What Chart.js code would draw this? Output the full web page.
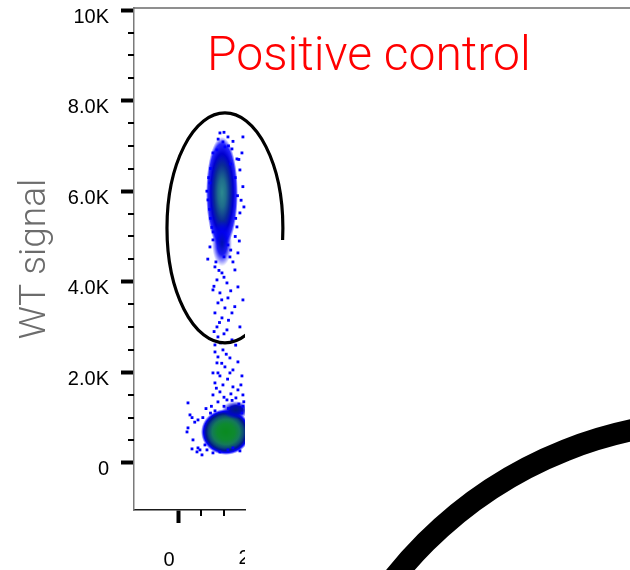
<!DOCTYPE html>
<html>
<head>
<meta charset="utf-8">
<script src="https://cdn.jsdelivr.net/npm/chart.js@4"></script>
<style>
  html, body { margin: 0; padding: 0; background: #fff; }
  canvas { display: block; }
</style>
</head>
<body>
<canvas id="plot" width="630" height="570"></canvas>
<script>
// axis ranges, data units
const xMin = -1000, xMax = 1467;
const yMin = -1040, yMax = 10045;

const xMajor = [0, 2000];
const xTickLabels = ['0', '2.0K'];
const xMinor = [500, 1000];
const yMajor = [0, 2000, 4000, 6000, 8000, 10000];
const yTickLabels = ['0', '2.0K', '4.0K', '6.0K', '8.0K', '10K'];
const yMinor = [500, 1000, 1500, 2500, 3000, 3500, 4500, 5000, 5500, 6500, 7000, 7500, 8500, 9000, 9500];

// sparse events
const eventX = [
  910, 1088, 1421, 977, 1021, 1177, 755, 844, 1399, 1288, 1354, 688, 644, 1354, 1443, 1288, 1310, 688, 1132,
  1100, 1000, 700, 1250, 1300, 700, 1250, 760, 1420,
  660, 620, 680, 1330, 1380, 1200, 870, 1150, 1260, 730, 1340, 640, 1000, 1150,
  755, 1088, 1199, 821,
  799, 955, 1243, 844, 1066, 1310, 755, 910, 1088, 1421, 866, 1021, 799, 1177, 955, 1354, 844, 1066, 866, 1177,
  799, 977, 866, 1132, 1310, 844, 1021, 1199, 866, 755, 910, 1132, 1399, 799, 977, 1199, 1310, 755, 1066, 910,
  1421, 1154, 1265, 866, 1376,
  888, 1000, 777, 1150, 950, 1240, 900, 1100, 1000, 780, 1260, 920, 1050, 800, 950, 1080, 830, 1000, 1180, 1330, 1420, 720,
  200, 244, 422, 178, 200, 311, 289, 422, 466, 622, 755, 910, 1088, 1199, 577, 400, 511, 1354,
  600, 700, 800, 1000, 1100, 1400, 1440, 350, 290, 530
];
const eventY = [
  7286, 7198, 7198, 7088, 6977, 6933, 6845, 6911, 6845, 6712, 6469, 6182, 5807, 5520, 5652, 5211, 4637, 4769, 4548,
  7000, 7300, 6500, 6300, 5900, 5400, 5000, 5100, 6100,
  6300, 6000, 5600, 6700, 5800, 7100, 7150, 6600, 5400, 5200, 4900, 4500, 4550, 4700,
  4924, 4813, 4438, 4438,
  4328, 4195, 4261, 4041, 3974, 3886, 3820, 3754, 3643, 3599, 3533, 3422, 3312, 3312, 3202, 3003, 3003, 2937, 2782, 2716,
  2605, 2495, 2340, 2318, 2230, 2208, 2120, 2053, 1987, 1987, 1921, 1987, 1921, 1766, 1722, 1678, 1612, 1501, 1391, 1568,
  1501, 1524, 1435, 1347, 1722,
  4250, 4100, 3900, 3800, 3600, 3450, 3100, 3150, 2850, 2900, 2600, 2650, 2400, 2450, 2200, 1850, 1650, 1450, 1380, 1300, 1250, 1250,
  1325, 1060, 949, 684, 773, 508, 309, 331, 287, 287, 221, 243, 287, 331, 397, 243, 177, 265,
  1200, 1100, 1150, 1250, 1200, 1100, 1350, 900, 1000, 1000
];

// dense populations: centre of each
const coreNames = ['upper', 'tail', 'lower', 'shoulder'];
const coreX = [955, 955, 1043, 1265];
const coreY = [5962, 4850, 684, 1170];

// gate drawn round the upper population
const gateX = 1021, gateY = 5189, gateRx = 1288, gateRy = 2539, gateCutY = 4920;
// edge of a neighbouring panel's gate
const arcX = 11970, arcY = -8190, arcR = 9170;

// look of the dense cores
const coreStyles = {
  upper: { w: 32, h: 112, stops: [[0, '#2c8a90'], [0.25, '#1f6d8c'], [0.5, '#0a2c96'], [0.7, '#0000d0'], [0.88, 'rgba(0,0,255,0.85)'], [1, 'rgba(0,0,255,0)']] },
  tail: { w: 20, h: 46, stops: [[0, '#0010b0'], [0.5, 'rgba(0,0,240,0.9)'], [1, 'rgba(0,0,255,0)']] },
  lower: { w: 50, h: 46, stops: [[0, '#0a8a20'], [0.35, '#0e8a30'], [0.55, '#157a5a'], [0.7, '#0c4a78'], [0.8, '#00188c'], [0.9, '#0000ff'], [1, 'rgba(0,0,255,0)']] },
  shoulder: { w: 28, h: 18, stops: [[0, '#001a80'], [0.5, '#0008c0'], [1, 'rgba(0,0,255,0)']] }
};

function makeCore(s) {
  const c = document.createElement('canvas');
  c.width = s.w;
  c.height = s.h;
  const g = c.getContext('2d');
  g.translate(s.w / 2, s.h / 2);
  g.scale(1, s.h / s.w);
  const grad = g.createRadialGradient(0, 0, 0, 0, 0, s.w / 2);
  s.stops.forEach(([o, col]) => grad.addColorStop(o, col));
  g.fillStyle = grad;
  g.beginPath();
  g.arc(0, 0, s.w / 2, 0, Math.PI * 2);
  g.fill();
  return c;
}
const coreImages = coreNames.map(n => makeCore(coreStyles[n]));

const labelFont = { family: 'Liberation Sans', size: 20 };

const extras = {
  id: 'extras',
  afterDatasetsDraw(chart) {
    const { ctx, chartArea: a, scales: { x, y } } = chart;
    // gate ellipse, hidden in the lower right like the original
    ctx.save();
    const cut = y.getPixelForValue(gateCutY);
    ctx.beginPath();
    ctx.rect(0, 0, chart.width, cut);
    ctx.rect(0, cut, a.right, chart.height - cut);
    ctx.clip();
    const cx = x.getPixelForValue(gateX);
    const cy = y.getPixelForValue(gateY);
    ctx.beginPath();
    ctx.ellipse(cx, cy, x.getPixelForValue(gateX + gateRx) - cx, cy - y.getPixelForValue(gateY + gateRy), 0, 0, Math.PI * 2);
    ctx.lineWidth = 3.2;
    ctx.strokeStyle = '#000';
    ctx.stroke();
    ctx.restore();
  },
  afterDraw(chart) {
    const { ctx, chartArea: a, scales: { x, y } } = chart;
    ctx.save();
    // top frame line runs across the whole figure
    ctx.strokeStyle = '#6a6a6a';
    ctx.lineWidth = 1.5;
    ctx.beginPath();
    ctx.moveTo(a.left, a.top);
    ctx.lineTo(chart.width, a.top);
    ctx.stroke();

    // minor ticks
    ctx.strokeStyle = '#000';
    ctx.lineWidth = 2;
    yMinor.forEach(v => {
      const py = Math.round(y.getPixelForValue(v));
      ctx.beginPath();
      ctx.moveTo(a.left - 6, py);
      ctx.lineTo(a.left, py);
      ctx.stroke();
    });
    xMinor.forEach(v => {
      const px = Math.round(x.getPixelForValue(v));
      ctx.beginPath();
      ctx.moveTo(px, a.bottom);
      ctx.lineTo(px, a.bottom + 6);
      ctx.stroke();
    });

    // x labels past the cut edge, clipped
    ctx.save();
    ctx.beginPath();
    ctx.rect(0, 0, a.right, chart.height);
    ctx.clip();
    ctx.font = '20px "Liberation Sans"';
    ctx.fillStyle = '#000';
    ctx.textAlign = 'center';
    ctx.textBaseline = 'top';
    xMajor.forEach((v, i) => {
      if (v <= xMax) return;
      ctx.fillText(xTickLabels[i], x.getPixelForValue(v) - 10, a.bottom + 13 + 25);
    });
    ctx.restore();

    // neighbouring gate edge
    const ax = x.getPixelForValue(arcX);
    const ay = y.getPixelForValue(arcY);
    const ar = x.getPixelForValue(arcX + arcR) - ax;
    ctx.beginPath();
    ctx.arc(ax, ay, ar, 0, Math.PI * 2);
    ctx.lineWidth = 22;
    ctx.strokeStyle = '#000';
    ctx.stroke();

    // panel title
    ctx.font = '300 48px Roboto';
    ctx.fillStyle = '#ff0000';
    ctx.textAlign = 'left';
    ctx.textBaseline = 'alphabetic';
    ctx.fillText('Positive control', 207, 70);
    ctx.restore();
  }
};

new Chart(document.getElementById('plot'), {
  type: 'scatter',
  data: {
    datasets: [
      {
        label: 'events',
        data: eventX.map((v, i) => ({ x: v, y: eventY[i] })),
        pointStyle: 'rect',
        pointRadius: 2,
        backgroundColor: '#0000ff',
        borderWidth: 0,
        clip: { left: 0, top: 0, right: 4, bottom: 0 }
      },
      {
        label: 'cores',
        data: coreX.map((v, i) => ({ x: v, y: coreY[i] })),
        pointStyle: ctx => coreImages[ctx.dataIndex],
        pointRadius: 3,
        borderWidth: 0,
        clip: 0
      }
    ]
  },
  options: {
    responsive: false,
    animation: false,
    layout: { padding: { top: 8, right: 385, left: 0, bottom: 0 } },
    plugins: {
      legend: { display: false },
      tooltip: { enabled: false }
    },
    scales: {
      x: {
        type: 'linear',
        min: xMin,
        max: xMax,
        afterFit: s => { s.height = 60; s.paddingLeft = 0; s.paddingRight = 0; },
        afterBuildTicks: s => { s.ticks = xMajor.filter(v => v <= xMax).map(v => ({ value: v })); },
        ticks: {
          callback: v => xTickLabels[xMajor.indexOf(v)],
          labelOffset: -10,
          padding: 25,
          font: labelFont,
          color: '#000',
          maxRotation: 0,
          autoSkip: false
        },
        grid: { drawOnChartArea: false, tickLength: 13, tickWidth: 4, tickColor: '#000' },
        border: { color: '#1a1a1a', width: 1.5 }
      },
      y: {
        type: 'linear',
        min: yMin,
        max: yMax,
        afterFit: s => { s.width = 134; s.paddingTop = 0; s.paddingBottom = 0; },
        afterBuildTicks: s => { s.ticks = yMajor.map(v => ({ value: v })); },
        ticks: {
          callback: v => yTickLabels[yMajor.indexOf(v)],
          labelOffset: 7,
          padding: 12,
          font: labelFont,
          color: '#000',
          autoSkip: false
        },
        grid: { drawOnChartArea: false, tickLength: 13, tickWidth: 4, tickColor: '#000' },
        border: { color: '#7a7a7a', width: 1.5 },
        title: {
          display: true,
          text: 'WT signal',
          color: '#6c6c6c',
          font: { family: 'Roboto', weight: 300, size: 37 },
          padding: { top: 14, bottom: 0 }
        }
      }
    }
  },
  plugins: [extras]
});
</script>
</body>
</html>
